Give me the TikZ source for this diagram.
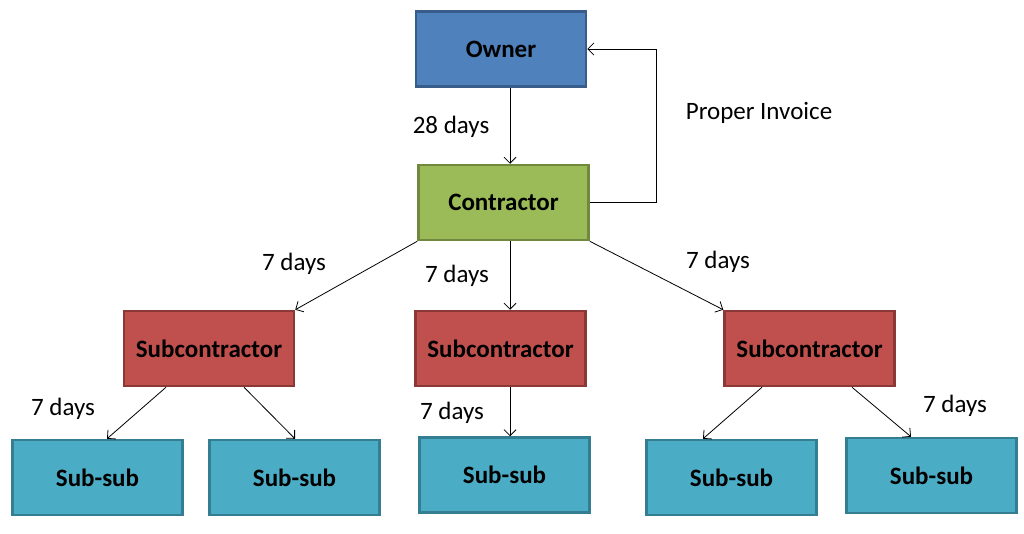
\documentclass[tikz,border=0pt]{standalone}
\usepackage{fontspec}
\setmainfont{Carlito}
\usetikzlibrary{arrows.meta}
\definecolor{ownerfill}{HTML}{4F81BD}
\definecolor{ownerdraw}{HTML}{385D8A}
\definecolor{confill}{HTML}{9BBB59}
\definecolor{condraw}{HTML}{71893F}
\definecolor{subfill}{HTML}{C0504D}
\definecolor{subdraw}{HTML}{8C3836}
\definecolor{ssfill}{HTML}{4BACC6}
\definecolor{ssdraw}{HTML}{357D91}
\tikzset{
  box/.style={rectangle, line width=2.5pt, minimum width=170pt, minimum height=75pt, inner sep=0pt,
    font=\fontsize{25}{30}\selectfont\bfseries},
  ownerbox/.style={box, fill=ownerfill, draw=ownerdraw},
  conbox/.style={box, fill=confill, draw=condraw},
  subbox/.style={box, fill=subfill, draw=subdraw},
  ssbox/.style={box, fill=ssfill, draw=ssdraw},
  conn/.style={draw=black, line width=0.8pt, -{Straight Barb[length=6pt,width=12pt,line width=0.8pt]}},
  lbl/.style={font=\fontsize{25}{30}\selectfont, inner sep=0pt}
}
\begin{document}
\begin{tikzpicture}[x=1pt,y=-1pt]
\useasboundingbox (0,0) rectangle (1024,533);
\node[ownerbox] (owner) at (501,49) {Owner};
\node[conbox] (con) at (503.5,202.5) {Contractor};
\node[subbox] (subL) at (209,348.5) {Subcontractor};
\node[subbox] (subM) at (500.5,348.5) {Subcontractor};
\node[subbox] (subR) at (809.5,348.5) {Subcontractor};
\node[ssbox] (ss1) at (97.5,477.5) {Sub-sub};
\node[ssbox] (ss2) at (294.5,477.5) {Sub-sub};
\node[ssbox] (ss3) at (504.5,475) {Sub-sub};
\node[ssbox] (ss4) at (731.5,477.5) {Sub-sub};
\node[ssbox] (ss5) at (931.5,475.5) {Sub-sub};

\draw[conn] ([xshift=9pt]owner.south) -- ([xshift=6.5pt]con.north);
\draw[conn] (con.east) -- ++(67,0) |- (owner.east);
\draw[conn] (con.south west) -- (subL.north east);
\draw[conn] ([xshift=6.5pt]con.south) -- ([xshift=9.5pt]subM.north);
\draw[conn] (con.south east) -- (subR.north west);
\draw[conn] ([xshift=-43pt]subL.south) -- ([xshift=9.5pt]ss1.north);
\draw[conn] ([xshift=35pt]subL.south) -- ([xshift=0.5pt]ss2.north);
\draw[conn] ([xshift=9.5pt]subM.south) -- ([xshift=5.5pt]ss3.north);
\draw[conn] ([xshift=-47.5pt]subR.south) -- ([xshift=-28.5pt]ss4.north);
\draw[conn] ([xshift=42.5pt]subR.south) -- ([xshift=-20.5pt]ss5.north);

\node[lbl] (l28) at (451,127) {28 days};
\node[lbl] (linv) at (759,113) {Proper Invoice};
\node[lbl] (l7a) at (294,264) {7 days};
\node[lbl] (l7b) at (457,276) {7 days};
\node[lbl] (l7c) at (718,262) {7 days};
\node[lbl] (l7d) at (63,409) {7 days};
\node[lbl] (l7e) at (452,413) {7 days};
\node[lbl] (l7f) at (955,406) {7 days};
\end{tikzpicture}
\end{document}
